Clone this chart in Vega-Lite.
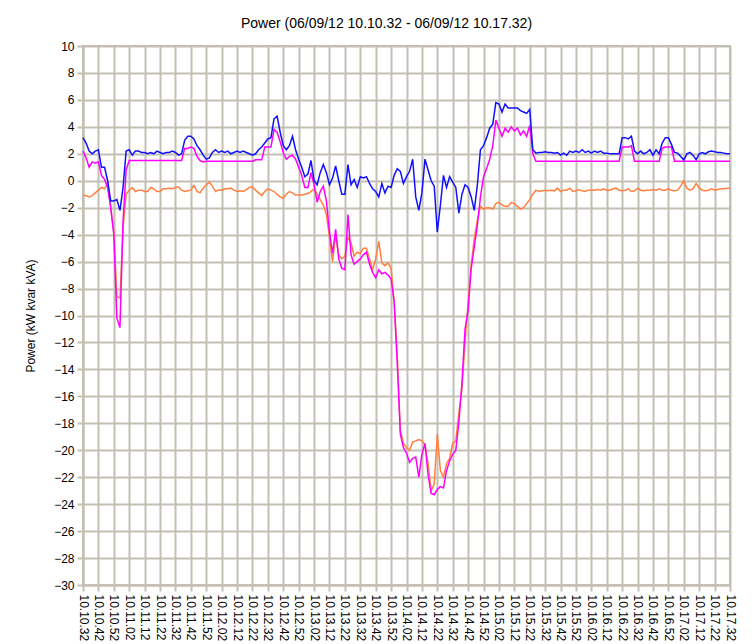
{
  "$schema": "https://vega.github.io/schema/vega-lite/v6.json",
  "width": 647,
  "height": 539,
  "autosize": {"type": "none"},
  "padding": {"left": 83, "top": 46, "right": 25, "bottom": 59},
  "background": "white",
  "title": {"text": "Power (06/09/12 10.10.32 - 06/09/12 10.17.32)", "font": "Liberation Sans", "fontSize": 14, "fontWeight": "normal", "color": "#000", "offset": 9, "dx": -20},
  "data": {"values": [
{"t":0,"B":3.2,"M":2.2,"O":-1.1},{"t":2,"B":2.8,"M":1.7,"O":-1.1},{"t":4,"B":2.2,"M":1.0,"O":-1.2},{"t":6,"B":2.0,"M":1.4,"O":-1.1},{"t":8,"B":2.2,"M":1.3,"O":-0.9},
{"t":10,"B":2.3,"M":1.4,"O":-0.7},{"t":12,"B":1.0,"M":0.4,"O":-0.5},{"t":14,"B":1.0,"M":0.1,"O":-0.6},{"t":16,"B":0.0,"M":-0.5,"O":-0.2},{"t":18,"B":-1.5,"M":-2.0,"O":-2.0},
{"t":20,"B":-1.5,"M":-4.0,"O":-3.8},{"t":22,"B":-1.4,"M":-10.2,"O":-8.6},{"t":24,"B":-2.2,"M":-10.9,"O":-8.7},{"t":26,"B":-0.5,"M":-3.0,"O":-3.5},{"t":28,"B":2.2,"M":0.8,"O":-1.0},
{"t":30,"B":2.3,"M":1.5,"O":-0.7},{"t":32,"B":1.9,"M":1.5,"O":-0.5},{"t":34,"B":2.2,"M":1.5,"O":-0.8},{"t":36,"B":2.2,"M":1.5,"O":-0.7},{"t":38,"B":2.1,"M":1.5,"O":-0.7},
{"t":40,"B":2.1,"M":1.5,"O":-0.8},{"t":42,"B":2.0,"M":1.5,"O":-0.8},{"t":44,"B":2.1,"M":1.5,"O":-0.5},{"t":46,"B":2.0,"M":1.5,"O":-0.6},{"t":48,"B":2.2,"M":1.5,"O":-0.8},
{"t":50,"B":2.1,"M":1.5,"O":-0.8},{"t":52,"B":2.0,"M":1.5,"O":-0.6},{"t":54,"B":2.1,"M":1.5,"O":-0.6},{"t":56,"B":2.1,"M":1.5,"O":-0.55},{"t":58,"B":2.2,"M":1.5,"O":-0.6},
{"t":60,"B":2.1,"M":1.5,"O":-0.5},{"t":62,"B":1.9,"M":1.5,"O":-0.45},{"t":64,"B":2.0,"M":1.5,"O":-0.7},{"t":66,"B":3.0,"M":2.4,"O":-0.8},{"t":68,"B":3.3,"M":2.4,"O":-0.75},
{"t":70,"B":3.3,"M":2.5,"O":-0.7},{"t":72,"B":3.1,"M":2.4,"O":-0.35},{"t":74,"B":2.6,"M":1.8,"O":-0.8},{"t":76,"B":2.3,"M":1.5,"O":-0.9},{"t":78,"B":1.9,"M":1.4,"O":-0.55},
{"t":80,"B":1.6,"M":1.45,"O":-0.3},{"t":82,"B":1.7,"M":1.45,"O":-0.1},{"t":84,"B":2.1,"M":1.45,"O":-0.4},{"t":86,"B":2.3,"M":1.45,"O":-0.8},{"t":88,"B":2.1,"M":1.45,"O":-0.7},
{"t":90,"B":2.2,"M":1.45,"O":-0.7},{"t":92,"B":2.1,"M":1.45,"O":-0.6},{"t":94,"B":2.2,"M":1.45,"O":-0.6},{"t":96,"B":2.0,"M":1.45,"O":-0.55},{"t":98,"B":2.1,"M":1.45,"O":-0.7},
{"t":100,"B":2.2,"M":1.45,"O":-0.8},{"t":102,"B":2.1,"M":1.45,"O":-0.75},{"t":104,"B":2.2,"M":1.45,"O":-0.8},{"t":106,"B":2.1,"M":1.45,"O":-0.65},{"t":108,"B":2.0,"M":1.45,"O":-0.5},
{"t":110,"B":1.9,"M":1.45,"O":-0.45},{"t":112,"B":2.0,"M":1.55,"O":-0.7},{"t":114,"B":2.3,"M":1.55,"O":-0.9},{"t":116,"B":2.5,"M":1.55,"O":-1.1},{"t":118,"B":2.8,"M":2.5,"O":-0.8},
{"t":120,"B":3.1,"M":2.5,"O":-0.6},{"t":122,"B":3.2,"M":2.5,"O":-0.7},{"t":124,"B":4.6,"M":3.8,"O":-0.8},{"t":126,"B":4.8,"M":3.6,"O":-1.0},{"t":128,"B":3.6,"M":2.9,"O":-1.2},
{"t":130,"B":2.6,"M":2.1,"O":-1.3},{"t":132,"B":2.3,"M":1.6,"O":-1.0},{"t":134,"B":2.6,"M":1.8,"O":-0.8},{"t":136,"B":3.3,"M":1.9,"O":-0.9},{"t":138,"B":2.3,"M":1.6,"O":-1.05},
{"t":140,"B":1.6,"M":1.0,"O":-1.05},{"t":142,"B":1.0,"M":0.4,"O":-1.05},{"t":144,"B":0.3,"M":-0.5,"O":-1.0},{"t":146,"B":0.5,"M":-0.5,"O":-0.95},{"t":148,"B":1.5,"M":0.6,"O":-0.8},
{"t":150,"B":0.0,"M":-0.3,"O":-0.6},{"t":152,"B":-0.3,"M":-1.6,"O":-1.0},{"t":154,"B":0.6,"M":-0.8,"O":-1.4},{"t":156,"B":1.2,"M":-0.4,"O":-1.8},{"t":158,"B":0.6,"M":-1.5,"O":-2.5},
{"t":160,"B":-0.3,"M":-3.8,"O":-4.2},{"t":162,"B":0.2,"M":-5.4,"O":-6.0},{"t":164,"B":1.1,"M":-3.6,"O":-4.0},{"t":166,"B":0.0,"M":-5.8,"O":-5.5},{"t":168,"B":-1.0,"M":-6.5,"O":-5.8},
{"t":170,"B":-1.0,"M":-6.6,"O":-5.6},{"t":172,"B":1.2,"M":-2.5,"O":-4.2},{"t":174,"B":-0.3,"M":-5.5,"O":-4.6},{"t":176,"B":0.1,"M":-6.2,"O":-5.6},{"t":178,"B":-0.5,"M":-6.0,"O":-5.3},
{"t":180,"B":0.3,"M":-5.8,"O":-5.4},{"t":182,"B":0.2,"M":-5.5,"O":-5.0},{"t":184,"B":0.3,"M":-5.3,"O":-5.0},{"t":186,"B":-0.2,"M":-6.2,"O":-5.8},{"t":188,"B":-0.6,"M":-6.8,"O":-6.6},
{"t":190,"B":-0.8,"M":-7.2,"O":-5.8},{"t":192,"B":-1.2,"M":-6.6,"O":-4.5},{"t":194,"B":-0.2,"M":-6.9,"O":-6.1},{"t":196,"B":-0.9,"M":-6.8,"O":-6.3},{"t":198,"B":-0.4,"M":-7.0,"O":-6.1},
{"t":200,"B":-0.5,"M":-7.3,"O":-6.5},{"t":202,"B":0.4,"M":-9.0,"O":-9.0},{"t":204,"B":0.9,"M":-13.5,"O":-13.0},{"t":206,"B":0.7,"M":-18.8,"O":-18.5},{"t":208,"B":-0.2,"M":-19.8,"O":-19.5},
{"t":210,"B":0.3,"M":-20.2,"O":-19.8},{"t":212,"B":0.7,"M":-20.9,"O":-20.0},{"t":214,"B":1.6,"M":-20.6,"O":-19.4},{"t":216,"B":-1.2,"M":-20.5,"O":-19.3},{"t":218,"B":-2.2,"M":-22.0,"O":-19.2},
{"t":220,"B":-0.9,"M":-20.3,"O":-19.3},{"t":222,"B":1.6,"M":-19.5,"O":-19.6},{"t":224,"B":0.8,"M":-21.8,"O":-21.0},{"t":226,"B":0.0,"M":-23.2,"O":-23.0},{"t":228,"B":-0.4,"M":-23.3,"O":-22.5},
{"t":230,"B":-3.8,"M":-22.9,"O":-18.8},{"t":232,"B":-1.8,"M":-22.7,"O":-21.5},{"t":234,"B":0.4,"M":-22.8,"O":-22.0},{"t":236,"B":-0.5,"M":-21.5,"O":-21.0},{"t":238,"B":0.3,"M":-20.8,"O":-20.6},
{"t":240,"B":-0.1,"M":-20.3,"O":-19.5},{"t":242,"B":-0.5,"M":-20.0,"O":-19.3},{"t":244,"B":-2.4,"M":-17.9,"O":-17.2},{"t":246,"B":-1.0,"M":-15.0,"O":-15.5},{"t":248,"B":-0.3,"M":-11.0,"O":-12.0},
{"t":250,"B":-0.5,"M":-9.6,"O":-9.0},{"t":252,"B":-1.2,"M":-6.5,"O":-6.2},{"t":254,"B":-2.2,"M":-4.9,"O":-4.3},{"t":256,"B":-0.3,"M":-3.3,"O":-2.9},{"t":258,"B":2.3,"M":-1.2,"O":-1.9},
{"t":260,"B":2.6,"M":0.3,"O":-2.1},{"t":262,"B":3.2,"M":0.9,"O":-2.0},{"t":264,"B":3.9,"M":1.6,"O":-2.0},{"t":266,"B":4.2,"M":2.6,"O":-2.1},{"t":268,"B":5.8,"M":4.5,"O":-1.7},
{"t":270,"B":5.7,"M":3.9,"O":-1.6},{"t":272,"B":5.1,"M":3.3,"O":-1.8},{"t":274,"B":5.7,"M":3.9,"O":-1.9},{"t":276,"B":5.4,"M":3.6,"O":-1.9},{"t":278,"B":5.4,"M":4.0,"O":-1.6},
{"t":280,"B":5.4,"M":3.7,"O":-1.7},{"t":282,"B":5.4,"M":3.9,"O":-1.9},{"t":284,"B":5.2,"M":3.4,"O":-2.1},{"t":286,"B":5.1,"M":3.7,"O":-2.0},{"t":288,"B":5.0,"M":3.3,"O":-1.7},
{"t":290,"B":5.3,"M":4.1,"O":-1.4},{"t":292,"B":2.3,"M":2.0,"O":-1.0},{"t":294,"B":2.05,"M":1.45,"O":-0.7},{"t":296,"B":2.1,"M":1.45,"O":-0.8},{"t":298,"B":2.1,"M":1.45,"O":-0.75},
{"t":300,"B":2.15,"M":1.45,"O":-0.7},{"t":302,"B":2.1,"M":1.45,"O":-0.75},{"t":304,"B":2.1,"M":1.45,"O":-0.7},{"t":306,"B":2.05,"M":1.45,"O":-0.75},{"t":308,"B":2.1,"M":1.45,"O":-0.55},
{"t":310,"B":1.9,"M":1.45,"O":-0.8},{"t":312,"B":2.05,"M":1.45,"O":-0.7},{"t":314,"B":1.9,"M":1.45,"O":-0.7},{"t":316,"B":2.2,"M":1.45,"O":-0.55},{"t":318,"B":2.1,"M":1.45,"O":-0.8},
{"t":320,"B":2.2,"M":1.45,"O":-0.75},{"t":322,"B":2.1,"M":1.45,"O":-0.65},{"t":324,"B":2.3,"M":1.45,"O":-0.75},{"t":326,"B":2.1,"M":1.45,"O":-0.8},{"t":328,"B":2.2,"M":1.45,"O":-0.7},
{"t":330,"B":2.05,"M":1.45,"O":-0.7},{"t":332,"B":2.2,"M":1.45,"O":-0.7},{"t":334,"B":2.1,"M":1.45,"O":-0.65},{"t":336,"B":2.2,"M":1.45,"O":-0.7},{"t":338,"B":2.05,"M":1.45,"O":-0.6},
{"t":340,"B":2.05,"M":1.45,"O":-0.7},{"t":342,"B":2.0,"M":1.45,"O":-0.7},{"t":344,"B":2.0,"M":1.45,"O":-0.6},{"t":346,"B":2.0,"M":1.45,"O":-0.55},{"t":348,"B":2.0,"M":1.45,"O":-0.7},
{"t":350,"B":3.2,"M":2.5,"O":-0.75},{"t":352,"B":3.2,"M":2.5,"O":-0.7},{"t":354,"B":3.1,"M":2.5,"O":-0.6},{"t":356,"B":3.3,"M":2.6,"O":-0.8},{"t":358,"B":2.2,"M":1.45,"O":-0.75},
{"t":360,"B":2.0,"M":1.45,"O":-0.55},{"t":362,"B":2.2,"M":1.45,"O":-0.7},{"t":364,"B":2.0,"M":1.45,"O":-0.75},{"t":366,"B":2.1,"M":1.45,"O":-0.7},{"t":368,"B":2.3,"M":1.45,"O":-0.7},
{"t":370,"B":1.9,"M":1.45,"O":-0.65},{"t":372,"B":2.3,"M":1.45,"O":-0.7},{"t":374,"B":2.0,"M":1.45,"O":-0.6},{"t":376,"B":2.8,"M":2.4,"O":-0.7},{"t":378,"B":3.2,"M":2.5,"O":-0.7},
{"t":380,"B":3.2,"M":2.5,"O":-0.6},{"t":382,"B":2.7,"M":2.5,"O":-0.7},{"t":384,"B":2.1,"M":1.45,"O":-0.75},{"t":386,"B":2.05,"M":1.45,"O":-0.7},{"t":388,"B":1.8,"M":1.45,"O":-0.4},
{"t":390,"B":1.55,"M":1.45,"O":0.0},{"t":392,"B":2.0,"M":1.45,"O":-0.55},{"t":394,"B":2.1,"M":1.45,"O":-0.7},{"t":396,"B":1.9,"M":1.45,"O":-0.6},{"t":398,"B":1.55,"M":1.45,"O":-0.2},
{"t":400,"B":2.0,"M":1.45,"O":-0.55},{"t":402,"B":2.1,"M":1.45,"O":-0.7},{"t":404,"B":2.0,"M":1.45,"O":-0.75},{"t":406,"B":2.15,"M":1.45,"O":-0.7},{"t":408,"B":2.2,"M":1.45,"O":-0.6},
{"t":410,"B":2.15,"M":1.45,"O":-0.7},{"t":412,"B":2.1,"M":1.45,"O":-0.65},{"t":414,"B":2.1,"M":1.45,"O":-0.6},{"t":416,"B":2.05,"M":1.45,"O":-0.6},{"t":418,"B":2.0,"M":1.45,"O":-0.55},
{"t":420,"B":2.0,"M":1.45,"O":-0.55}
  ]},
  "encoding": {
    "x": {
      "field": "t", "type": "quantitative",
      "scale": {"domain": [0, 420], "nice": false, "zero": false},
      "axis": {
        "title": null, "grid": true,
        "values": [0,10,20,30,40,50,60,70,80,90,100,110,120,130,140,150,160,170,180,190,200,210,220,230,240,250,260,270,280,290,300,310,320,330,340,350,360,370,380,390,400,410,420],
        "labelExpr": "'10.' + format(floor((datum.value + 632) / 60) % 60, '02d') + '.' + format((datum.value + 632) % 60, '02d')",
        "labelAngle": 90, "labelAlign": "left", "labelBaseline": "middle",
        "labelOverlap": false, "labelFlush": false, "labelBound": false, "labelPadding": 3
      }
    }
  },
  "layer": [
    {
      "mark": {"type": "line", "color": "#ff8040", "strokeWidth": 1.5},
      "encoding": {
        "y": {
          "field": "O", "type": "quantitative",
          "scale": {"domain": [-30, 10], "nice": false, "zero": false},
          "axis": {"title": "Power (kW kvar kVA)", "grid": true, "values": [-30,-28,-26,-24,-22,-20,-18,-16,-14,-12,-10,-8,-6,-4,-2,0,2,4,6,8,10], "labelPadding": 3, "titlePadding": 16}
        }
      }
    },
    {
      "mark": {"type": "line", "color": "#ff00ff", "strokeWidth": 1.5},
      "encoding": {
        "y": {
          "field": "M", "type": "quantitative",
          "scale": {"domain": [-30, 10], "nice": false, "zero": false},
          "axis": {"title": "Power (kW kvar kVA)", "grid": true, "values": [-30,-28,-26,-24,-22,-20,-18,-16,-14,-12,-10,-8,-6,-4,-2,0,2,4,6,8,10], "labelPadding": 3, "titlePadding": 16}
        }
      }
    },
    {
      "mark": {"type": "line", "color": "#1010ff", "strokeWidth": 1.5},
      "encoding": {
        "y": {
          "field": "B", "type": "quantitative",
          "scale": {"domain": [-30, 10], "nice": false, "zero": false},
          "axis": {"title": "Power (kW kvar kVA)", "grid": true, "values": [-30,-28,-26,-24,-22,-20,-18,-16,-14,-12,-10,-8,-6,-4,-2,0,2,4,6,8,10], "labelPadding": 3, "titlePadding": 16}
        }
      }
    }
  ],
  "config": {
    "view": {"stroke": "#c4bfb3", "strokeWidth": 2},
    "axis": {
      "gridColor": "#c4bfb3", "gridWidth": 2, "gridOpacity": 1,
      "domainColor": "#c4bfb3", "domainWidth": 2,
      "tickColor": "#c4bfb3", "tickWidth": 2, "tickSize": 6,
      "labelFont": "Liberation Sans", "labelFontSize": 12, "labelColor": "#000",
      "titleFont": "Liberation Sans", "titleFontSize": 12, "titleFontWeight": "normal", "titleColor": "#000"
    }
  }
}
